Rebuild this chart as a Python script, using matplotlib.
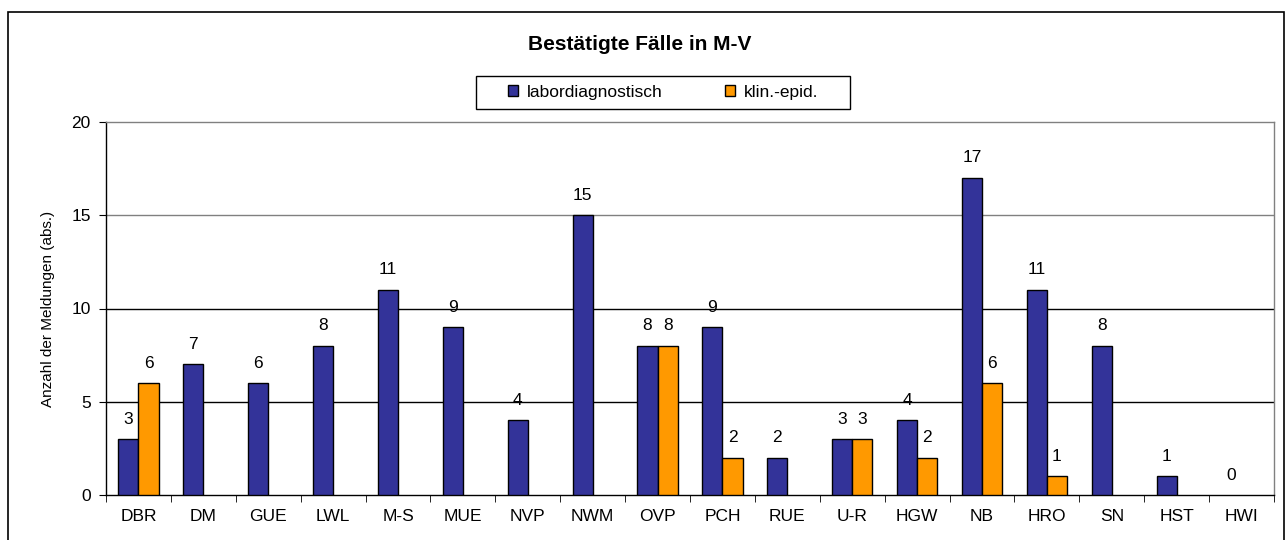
import matplotlib
matplotlib.use("Agg")
import matplotlib.pyplot as plt
import numpy as np
from matplotlib.patches import Rectangle, Patch

plt.rcParams["font.family"] = ["Liberation Sans", "DejaVu Sans"]

# Data
districts = ["DBR", "DM", "GUE", "LWL", "M-S", "MUE", "NVP", "NWM", "OVP",
             "PCH", "RUE", "U-R", "HGW", "NB", "HRO", "SN", "HST", "HWI"]
labor = [3, 7, 6, 8, 11, 9, 4, 15, 8, 9, 2, 3, 4, 17, 11, 8, 1, 0]
klin = [6, 0, 0, 0, 0, 0, 0, 0, 8, 2, 0, 3, 2, 6, 1, 0, 0, 0]

BLUE = "#333399"
ORANGE = "#FF9900"
FS = 12.5

W, H = 1286, 540
fig = plt.figure(figsize=(W / 100, H / 100), dpi=100)

# outer chart frame
fig.patches.append(Rectangle((8 / W, -0.01), (1284 - 8) / W, (H - 12) / H + 0.01,
                             transform=fig.transFigure, fill=False,
                             edgecolor="black", linewidth=1.2))

# plot area
left, right, top, bottom = 106, 1274, 122, 495
ax = fig.add_axes([left / W, (H - bottom) / H, (right - left) / W, (bottom - top) / H])

x = np.arange(len(districts))
bw = 0.31
# zero values get no visible bar (no outline either)
lw_labor = [1.0 if v > 0 else 0 for v in labor]
lw_klin = [1.0 if v > 0 else 0 for v in klin]
ax.bar(x - bw / 2, labor, bw, color=BLUE, edgecolor="black", linewidth=lw_labor, zorder=3)
ax.bar(x + bw / 2, klin, bw, color=ORANGE, edgecolor="black", linewidth=lw_klin, zorder=3)

for xi, v in zip(x, labor):
    ax.annotate(str(v), (xi - bw / 2, v), xytext=(0, 9), textcoords="offset points",
                ha="center", va="bottom", fontsize=FS)
for xi, v in zip(x, klin):
    if v > 0:
        ax.annotate(str(v), (xi + bw / 2, v), xytext=(0, 9), textcoords="offset points",
                    ha="center", va="bottom", fontsize=FS)

ax.set_xlim(-0.5, len(districts) - 0.5)
ax.set_ylim(0, 20)
ax.set_yticks([0, 5, 10, 15, 20])
ax.tick_params(axis="y", labelsize=FS, length=5, direction="out", pad=6)

# category labels centred, tick marks between categories
ax.set_xticks(x)
ax.set_xticklabels(districts, fontsize=FS)
ax.tick_params(axis="x", length=0, pad=10)
ax.set_xticks(np.arange(len(districts) + 1) - 0.5, minor=True)
ax.tick_params(axis="x", which="minor", length=5, direction="out")

# gridlines
for yv, c in [(5, "black"), (10, "black"), (15, "#808080")]:
    ax.axhline(yv, color=c, linewidth=1.0, zorder=1)

ax.spines["top"].set_color("#808080")
ax.spines["right"].set_color("#808080")
ax.spines["left"].set_color("black")
ax.spines["bottom"].set_color("black")
for s in ax.spines.values():
    s.set_linewidth(1.0)

ax.set_ylabel("Anzahl der Meldungen (abs.)", fontsize=11, labelpad=12)

fig.text(640 / W, 1 - 45 / H, "Bestätigte Fälle in M-V", ha="center", va="center",
         fontsize=15, fontweight="bold")

# legend box
fig.patches.append(Rectangle((476 / W, 1 - 109 / H), (850 - 476) / W, 33 / H,
                             transform=fig.transFigure, fill=False,
                             edgecolor="black", linewidth=1.0))
handles = [Patch(facecolor=BLUE, edgecolor="black", label="labordiagnostisch"),
           Patch(facecolor=ORANGE, edgecolor="black", label="klin.-epid.")]
fig.legend(handles=handles, loc="center", bbox_to_anchor=(663 / W, 1 - 92.5 / H),
           ncol=2, frameon=False, fontsize=FS, handlelength=0.6, handleheight=0.6,
           handletextpad=0.5, columnspacing=3.6)

fig.savefig("out.png", dpi=100)
